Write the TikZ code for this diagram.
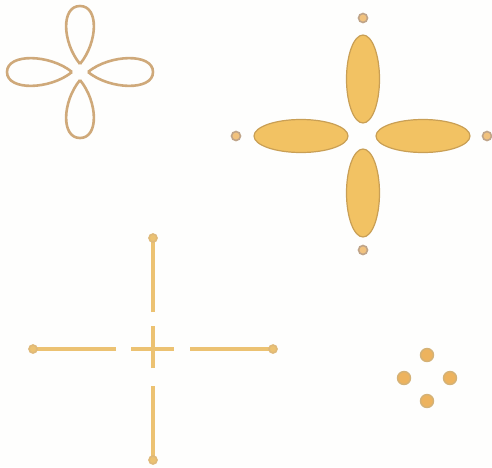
\documentclass[tikz,border=0pt]{standalone}
\usetikzlibrary{calc}
\definecolor{clrpetal}{HTML}{CFA97A}
\definecolor{clrfill}{HTML}{F2C263}
\definecolor{clredge}{HTML}{C99F55}
\definecolor{clrbar}{HTML}{ECC272}
\definecolor{clrknob}{HTML}{BFA489}
\definecolor{clrdot}{HTML}{EDB35E}
\definecolor{clrpaper}{HTML}{FEFEFD}

\begin{document}
\begin{tikzpicture}[
    x=1pt, y=-1pt,
    petal/.style={draw=clrpetal, line width=2.6pt},
    lobe/.style={draw=clredge, fill=clrfill, line width=1.2pt},
    knob/.style={draw=clrknob, fill=clrdot!80, line width=1.6pt},
    bar/.style={draw=clrbar, line width=4pt},
    spot/.style={draw=clredge!80, fill=clrdot, line width=1.4pt},
]
\fill[clrpaper] (0,0) rectangle (492,467);
\useasboundingbox (0,0) rectangle (492,467);
% outlined flower
\coordinate (drop_c) at (80,72);
\foreach \a/\l in {0/73, 90/66, 180/73, 270/66}
  \draw[petal, shift={(drop_c)}, rotate=\a]
    (8,0) .. controls (30,18) and (\l,19) .. (\l,0) .. controls (\l,-19) and (30,-18) .. (8,0);
% filled flower
\coordinate (oval_c) at (363,136);
\foreach \a/\m/\r/\k in {0/60/47/124, 90/57/44/118, 180/62/47/127, 270/57/44/114} {
  \draw[lobe, shift={(oval_c)}, rotate=\a] (\m,0) ellipse [x radius=\r, y radius=16.5];
  \draw[knob, shift={(oval_c)}, rotate=\a] (\k,0) circle (4.5);
}
% cross of bars
\coordinate (cross_c) at (153,349);
\foreach \a/\l in {0/120, 90/111, 180/120, 270/111} {
  \draw[bar, shift={(cross_c)}, rotate=\a] (37,0) -- (\l,0);
  \draw[knob, draw=clrbar!70!clrknob, fill=clrbar, shift={(cross_c)}, rotate=\a] (\l,0) circle (4);
}
\draw[bar, line width=3.5pt] ([xshift=-22]cross_c) -- ([xshift=21]cross_c);
\draw[bar, line width=3.5pt] ([yshift=-19]cross_c) -- ([yshift=23]cross_c);
% four dots
\coordinate (dots_c) at (427,378);
\foreach \a in {0,90,180,270}
  \draw[spot, shift={(dots_c)}, rotate=\a] (23,0) circle (6.5);
\end{tikzpicture}
\end{document}
